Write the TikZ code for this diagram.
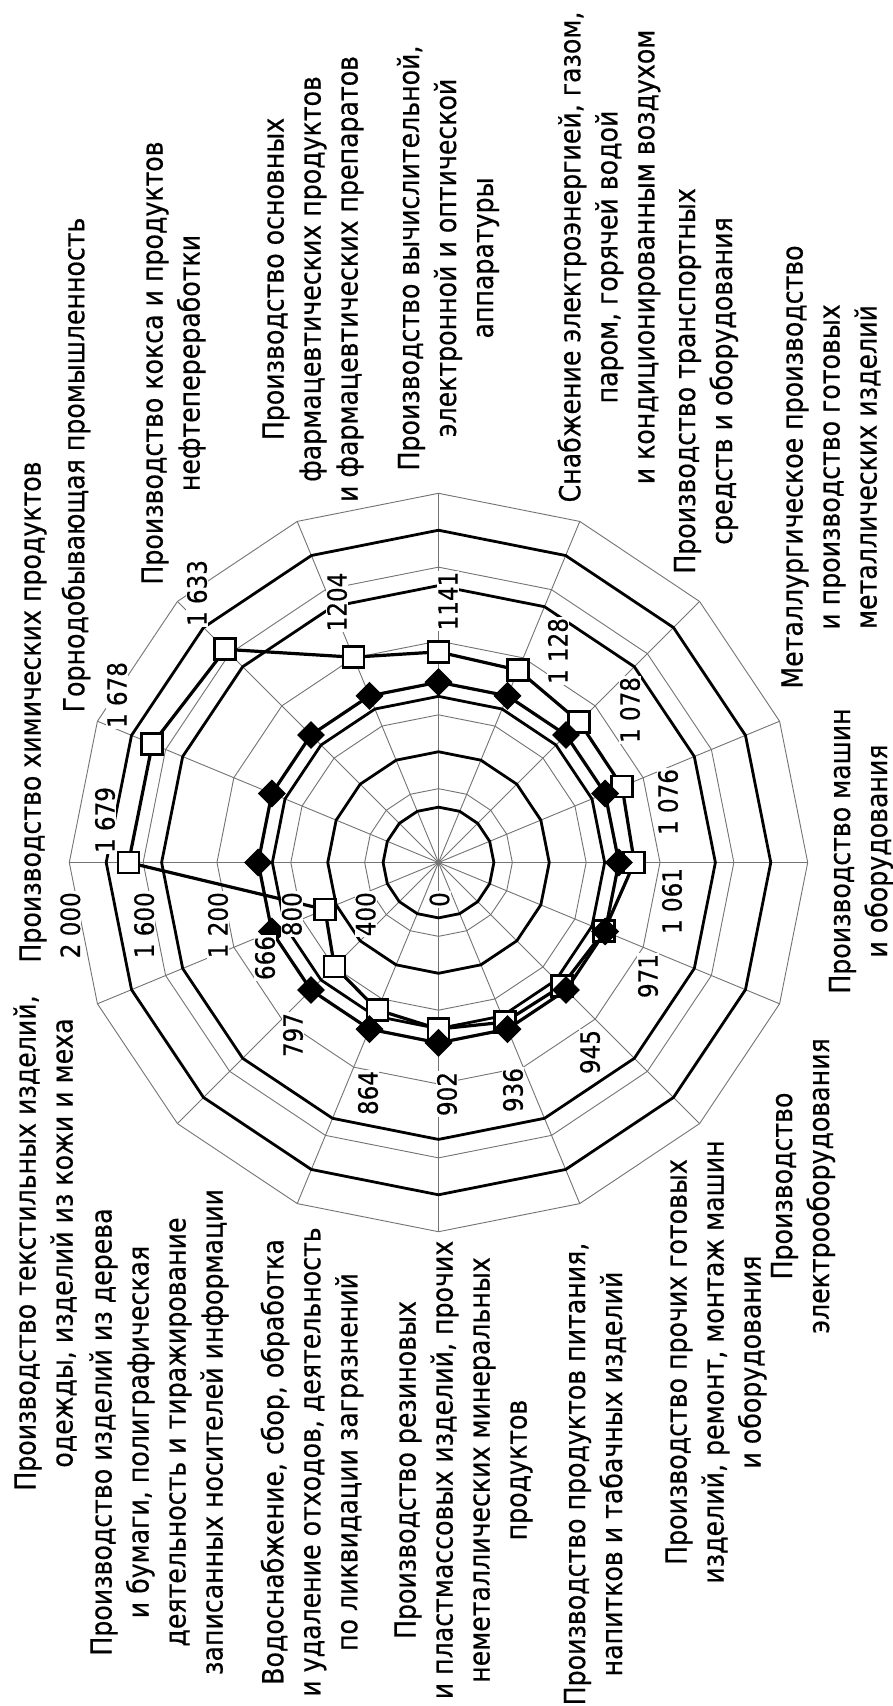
\documentclass[tikz,border=0pt]{standalone}
\usepackage{fontspec}
\setmainfont{DejaVu Sans}[FakeStretch=0.87, FakeBold=0.5]
\usetikzlibrary{shapes.geometric}
\begin{document}
\begin{tikzpicture}[x=1pt,y=-1pt,
  gridline/.style={draw=black!55, line width=0.9pt},
  ring/.style={draw=black, line width=2.8pt, line join=miter},
  ser/.style={draw=black, line width=3.2pt, line join=round},
  sqm/.style={rectangle, draw=black, fill=white, line width=2.8pt, minimum size=21pt, inner sep=0pt},
  dmm/.style={diamond, fill=black, minimum size=28pt, inner sep=0pt},
  num/.style={rotate=90, fill=white, inner sep=1pt, font=\fontsize{26.5}{30}\selectfont},
  cat/.style={rotate=90, align=center, inner sep=0pt, font=\fontsize{29}{37}\selectfont},
]
\def\cx{438.5}\def\cy{862.5}\def\sc{0.1846}
\useasboundingbox (0,0) rectangle (893,1706);
\fill[white] (0,0) rectangle (893,1706);
\coordinate (O) at (\cx,\cy);
% spokes
\foreach \k in {0,...,15}{
  \coordinate (e\k) at ({\cx-2000*\sc*cos(22.5*\k)},{\cy-2000*\sc*sin(22.5*\k)});
  \draw[gridline] (O) -- (e\k);
}
% thin grid rings
\foreach \v in {400,800,1200,1600,2000}{
  \draw[gridline] ({\cx-\v*\sc},\cy) \foreach \k in {1,...,15}{ -- ({\cx-\v*\sc*cos(22.5*\k)},{\cy-\v*\sc*sin(22.5*\k)}) } -- cycle;
}
% thick rings
\foreach \v in {300,600,900,1500,1800}{
  \draw[ring] ({\cx-\v*\sc},\cy) \foreach \k in {1,...,15}{ -- ({\cx-\v*\sc*cos(22.5*\k)},{\cy-\v*\sc*sin(22.5*\k)}) } -- cycle;
}
% square series
\foreach \v [count=\i from 0] in {1679,1678,1633,1204,1141,1128,1078,1076,1061,971,945,936,902,864,797,666}{
  \coordinate (s\i) at ({\cx-\v*\sc*cos(22.5*\i)},{\cy-\v*\sc*sin(22.5*\i)});
}
\draw[ser] (s0) \foreach \k in {1,...,15}{ -- (s\k) } -- cycle;
\foreach \k in {0,...,15}{ \node[sqm] (ms\k) at (s\k) {}; }
% diamond series
\foreach \k in {0,...,15}{
  \coordinate (d\k) at ({\cx-977*\sc*cos(22.5*\k)},{\cy-977*\sc*sin(22.5*\k)});
}
\draw[ser] (d0) \foreach \k in {1,...,15}{ -- (d\k) } -- cycle;
\foreach \k in {0,...,15}{ \node[dmm] (md\k) at (d\k) {}; }
% scale labels
\foreach \v/\t in {0/0,400/400,800/800,1200/1 200,1600/1 600,2000/2 000}{
  \node[num, anchor=east] (ax\v) at ({\cx-\v*\sc+1},891) {\t};
}
% data labels
\node[num] (l0) at (105,820) {1 679};
\node[num] (l1) at (117,695) {1 678};
\node[num] (l2) at (197,593) {1 633};
\node[num] (l3) at (337,602) {1204};
\node[num] (l4) at (448,601) {1141};
\node[num] (l5) at (558,651) {1 128};
\node[num] (l6) at (630,710) {1 078};
\node[num] (l7) at (668,802) {1 076};
\node[num] (l8) at (672,901) {1 061};
\node[num] (l9) at (648,976) {971};
\node[num] (l10) at (590,1052) {945};
\node[num] (l11) at (513,1090) {936};
\node[num] (l12) at (447,1094) {902};
\node[num] (l13) at (368,1093) {864};
\node[num] (l14) at (293,1035) {797};
\node[num] (l15) at (265,958) {666};
% category labels
\node[cat] (c1) at (33,712) {Производство химических продуктов};
\node[cat] (c2) at (76,465) {Горнодобывающая промышленность};
\node[cat] (c3) at (173.5,363) {Производство кокса и продуктов\\нефтепереработки};
\node[cat] (c4) at (313,279) {Производство основных\\фармацевтических продуктов\\и фармацевтических препаратов};
\node[cat] (c5) at (448,258) {Производство вычислительной,\\электронной и оптической\\аппаратуры};
\node[cat] (c6) at (609,257) {Снабжение электроэнергией, газом,\\паром, горячей водой\\и кондиционированным воздухом};
\node[cat] (c7) at (706,381) {Производство транспортных\\средств и оборудования};
\node[cat] (c8) at (831,467) {Металлургическое производство\\и производство готовых\\металлических изделий};
\node[cat] (c9) at (861,851) {Производство машин\\и оборудования};
\node[cat] (c10) at (803,1186) {Производство\\электрооборудования};
\node[cat] (c11) at (716,1362) {Производство прочих готовых\\изделий, ремонт, монтаж машин\\и оборудования};
\node[cat] (c12) at (595,1474) {Производство продуктов питания,\\напитков и табачных изделий};
\node[cat] (c13) at (463.5,1470) {Производство резиновых\\и пластмассовых изделий, прочих\\неметаллических минеральных\\продуктов};
\node[cat] (c14) at (312,1462) {Водоснабжение, сбор, обработка\\и удаление отходов, деятельность\\по ликвидации загрязнений};
\node[cat] (c15) at (159,1432) {Производство изделий из дерева\\и бумаги, полиграфическая\\деятельность и тиражирование\\записанных носителей информации};
\node[cat] (c16) at (45,1243) {Производство текстильных изделий,\\одежды, изделий из кожи и меха};
\end{tikzpicture}
\end{document}
